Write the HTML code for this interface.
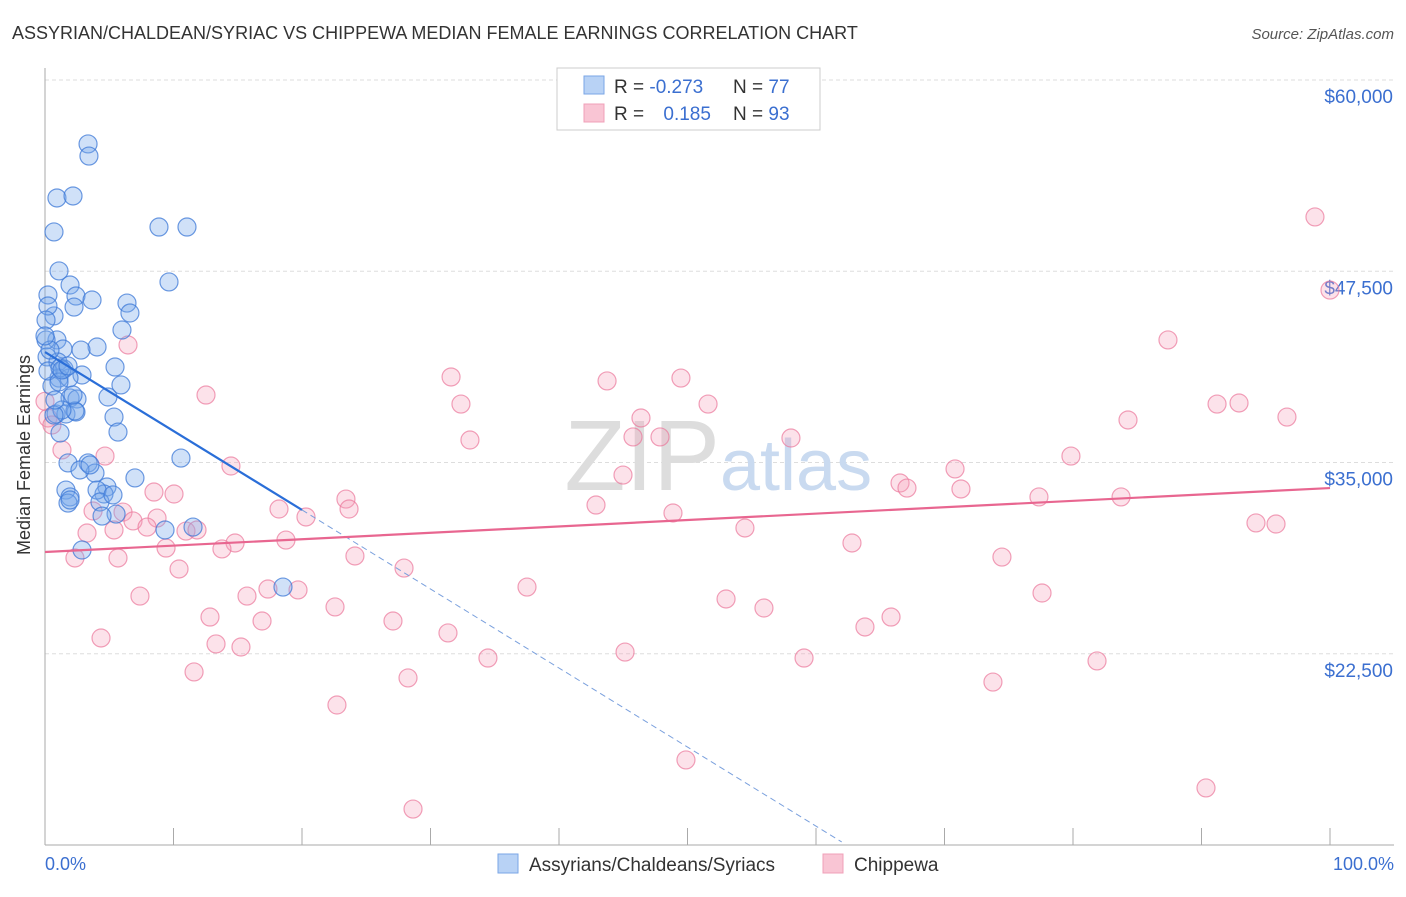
<!DOCTYPE html>
<html><head><meta charset="utf-8">
<style>
body{margin:0;background:#fff;font-family:"Liberation Sans",sans-serif;}
svg text{font-family:"Liberation Sans",sans-serif;}
</style></head>
<body>
<svg id="chart" width="1406" height="892" xmlns="http://www.w3.org/2000/svg">
<text x="12" y="39" font-size="18" fill="#333">ASSYRIAN/CHALDEAN/SYRIAC VS CHIPPEWA MEDIAN FEMALE EARNINGS CORRELATION CHART</text>
<text x="1394" y="39" font-size="15" fill="#555" font-style="italic" text-anchor="end">Source: ZipAtlas.com</text>
<g id="grid"></g>
<text x="720" y="490" font-size="100" fill="#ddd" font-family="Liberation Serif" text-anchor="end">ZIP</text>
<text x="720" y="490" font-size="72" fill="#c9daf0" text-anchor="start">atlas</text>
<g id="axes"></g>
<g id="pts"></g>
<g id="lines"></g>
<text x="30" y="455" font-size="18" fill="#333" text-anchor="middle" transform="rotate(-90 30 455)">Median Female Earnings</text>
<text x="45" y="870" font-size="18" fill="#3b6fd0">0.0%</text>
<text x="1394" y="870" font-size="18" fill="#3b6fd0" text-anchor="end">100.0%</text>
<g>
<rect x="557" y="68" width="263" height="62" fill="#fff" stroke="#ccc"/>
<rect x="584" y="76" width="20" height="18" fill="#b8d2f5" stroke="#7aa6e6"/>
<rect x="584" y="104" width="20" height="18" fill="#f9c5d4" stroke="#f0a0b8"/>
<text x="614" y="93" font-size="19" fill="#333">R = <tspan fill="#3b6fd0">-0.273</tspan></text>
<text x="733" y="93" font-size="19" fill="#333">N = <tspan fill="#3b6fd0">77</tspan></text>
<text x="614" y="120" font-size="19" fill="#333">R = <tspan fill="#3b6fd0" dx="14">0.185</tspan></text>
<text x="733" y="120" font-size="19" fill="#333">N = <tspan fill="#3b6fd0">93</tspan></text>
</g>
<g>
<rect x="498" y="854" width="20" height="19" fill="#b8d2f5" stroke="#7aa6e6"/>
<text x="529" y="871" font-size="19" fill="#333">Assyrians/Chaldeans/Syriacs</text>
<rect x="823" y="854" width="20" height="19" fill="#f9c5d4" stroke="#f0a0b8"/>
<text x="854" y="871" font-size="19" fill="#333">Chippewa</text>
</g>
</svg>
<script>
const yTicks=[60000,47500,35000,22500];
const yTickLabels=["$60,000","$47,500","$35,000","$22,500"];
const blueX=[3.35,3.42,0.93,2.18,0.70,8.87,11.05,1.09,9.65,1.95,0.23,2.41,3.66,6.38,2.26,6.61,0.70,0.23,0.08,5.99,0.93,0.08,4.05,1.40,2.80,0.16,1.01,5.45,1.48,2.88,1.09,1.87,5.91,4.90,1.95,2.49,0.86,1.63,2.41,5.37,1.17,5.68,1.79,3.35,3.89,10.58,7.00,1.63,1.95,4.82,4.59,4.05,1.79,4.28,5.53,4.44,11.52,9.34,2.88,18.52,2.33,1.32,0.70,0.54,0.23,0.39,1.17,2.18,2.72,5.29,1.95,3.50,1.09,1.32,0.00,1.79,0.78];
const blueV=[55.82,55.03,52.29,52.42,50.07,50.39,50.39,47.52,46.80,46.60,45.95,45.88,45.62,45.42,45.16,44.77,44.58,45.23,44.31,43.66,43.01,43.01,42.55,42.42,42.35,41.90,41.57,41.24,41.11,40.72,40.52,40.52,40.07,39.28,39.22,39.15,38.17,38.17,38.30,37.97,36.93,36.99,34.97,34.97,34.31,35.29,33.99,33.20,32.75,33.40,32.94,33.20,32.35,32.42,31.63,31.50,30.78,30.59,29.28,26.86,38.37,38.43,38.10,40.00,40.98,42.35,41.18,39.41,34.51,32.88,32.55,34.84,40.26,41.05,43.27,41.31,39.08];
const pinkX=[98.83,100,87.39,6.46,31.60,43.74,49.49,12.53,32.37,51.60,91.21,92.92,96.65,46.38,84.28,33.07,45.76,47.86,58.05,0.23,0.54,1.32,4.67,14.47,79.84,44.98,70.82,66.54,67.08,71.28,8.48,10.04,23.42,42.88,77.35,83.74,23.66,18.21,20.31,3.74,6.07,8.72,6.85,7.94,10.97,11.83,48.87,54.47,94.24,95.80,3.27,5.37,18.75,14.79,9.42,13.77,62.80,2.33,5.68,24.12,74.47,10.43,27.94,7.39,15.72,17.35,19.69,37.51,53.00,12.84,16.89,22.57,27.08,55.95,65.84,63.81,77.59,31.36,4.36,13.31,15.25,34.47,45.14,59.07,81.87,11.60,28.25,73.77,22.72,49.88,90.35,28.64,0.0];
const pinkV=[51.05,46.27,43.01,42.68,40.59,40.33,40.52,39.41,38.82,38.82,38.82,38.89,37.97,37.91,37.78,36.47,36.67,36.67,36.60,37.91,37.45,35.82,35.42,34.77,35.42,34.18,34.58,33.66,33.33,33.27,33.07,32.94,32.61,32.22,32.75,32.75,31.96,31.96,31.44,31.83,31.76,31.37,31.18,30.78,30.52,30.59,31.70,30.72,31.05,30.98,30.39,30.59,29.93,29.74,29.41,29.35,29.74,28.76,28.76,28.89,28.82,28.04,28.10,26.27,26.27,26.73,26.67,26.86,26.08,24.90,24.64,25.56,24.64,25.49,24.90,24.25,26.47,23.86,23.53,23.14,22.94,22.22,22.61,22.22,22.03,21.31,20.92,20.65,19.15,15.56,13.73,12.35,39.0];
const blueTrend=[[0,42.22],[20,31.9],[62,10.2]];
const pinkTrend=[[0,29.15],[100,33.33]];
const NS="http://www.w3.org/2000/svg";
function sx(p){return 45+p*12.85;}
function sy(v){return 80+(60-v)*15.3;}
function mk(tag,attrs,parent){const e=document.createElementNS(NS,tag);for(const k in attrs)e.setAttribute(k,attrs[k]);parent.appendChild(e);return e;}
const grid=document.getElementById('grid'),axes=document.getElementById('axes'),pts=document.getElementById('pts'),lines=document.getElementById('lines');
yTicks.forEach((t,i)=>{
 const y=sy(t/1000);
 const l=mk('line',{x1:45,x2:1394,y1:y,y2:y,stroke:'#ddd','stroke-dasharray':'4,3'},grid);
 
 
 const tx=mk('text',{x:1393,y:y+23,'font-size':19,fill:'#3b6fd0','text-anchor':'end'},grid);
 tx.textContent=yTickLabels[i];
 
 
});
const ya=mk('line',{x1:45,x2:45,y1:68,y2:845,stroke:'#aaa'},axes);


const xa=mk('line',{x1:45,x2:1394,y1:845,y2:845,stroke:'#aaa'},axes);


for(let i=0;i<=10;i++){
 const t=mk('line',{x1:sx(i*10),x2:sx(i*10),y1:828,y2:845,stroke:'#aaa'},axes);
 
 
}
function dots(X,V,fill,stroke,name){
 X.forEach((x,i)=>{
  const c=mk('circle',{cx:sx(x),cy:sy(V[i]),r:9,fill:fill,stroke:stroke,'stroke-width':1.2},pts);
  
  
 });
}
dots(pinkX,pinkV,'rgba(245,160,185,0.3)','rgba(235,120,155,0.7)','chippewa-point');
dots(blueX,blueV,'rgba(120,170,235,0.35)','rgba(60,120,215,0.75)','assyrian-point');
const b1=mk('line',{x1:sx(blueTrend[0][0]),y1:sy(blueTrend[0][1]),x2:sx(blueTrend[1][0]),y2:sy(blueTrend[1][1]),stroke:'#2a6ed8','stroke-width':2.2},lines);


const b2=mk('line',{x1:sx(blueTrend[1][0]),y1:sy(blueTrend[1][1]),x2:sx(blueTrend[2][0]),y2:sy(blueTrend[2][1]),stroke:'#7aa0dd','stroke-width':1,'stroke-dasharray':'6,4'},lines);


const p1=mk('line',{x1:sx(pinkTrend[0][0]),y1:sy(pinkTrend[0][1]),x2:sx(pinkTrend[1][0]),y2:sy(pinkTrend[1][1]),stroke:'#e86690','stroke-width':2.2},lines);


</script>
</body></html>
